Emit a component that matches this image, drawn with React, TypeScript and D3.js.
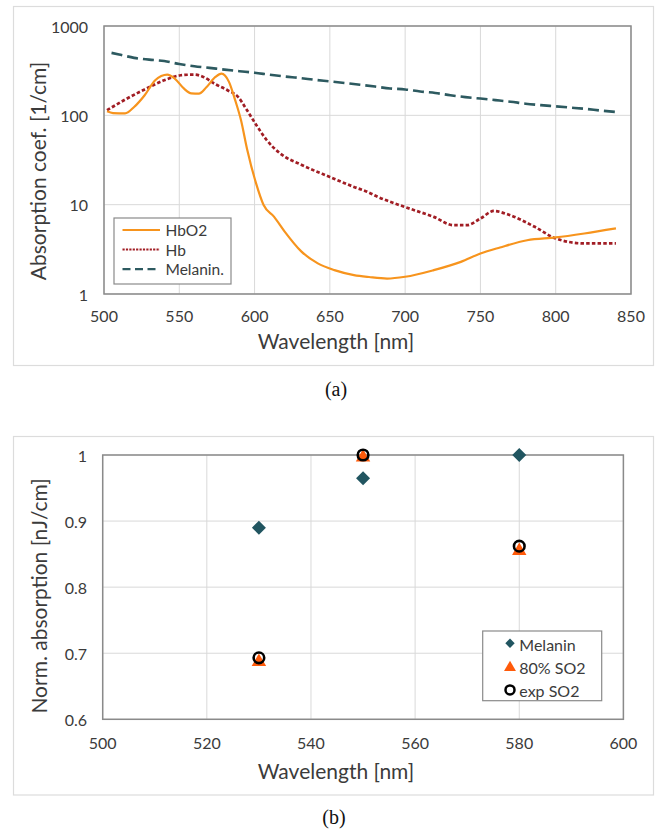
import React from "react";
import * as d3 from "d3";

// ---------- Chart (a) data ----------
const hbo2Wl = [502, 506, 514, 520, 527, 534, 538, 542, 547, 553, 558, 563, 568, 574, 578, 583, 587, 591, 595, 601, 606, 613, 620, 631, 642, 653, 666, 676, 688, 700, 719, 737, 750, 763, 781, 800, 819, 840];
const hbo2Val = [111, 106, 105, 124, 168, 247, 275, 286, 258, 200, 176, 175, 206, 269, 293, 237, 150, 88, 42, 17.3, 9.9, 7.3, 5.0, 3.0, 2.2, 1.85, 1.63, 1.55, 1.49, 1.56, 1.85, 2.29, 2.84, 3.32, 4.0, 4.3, 4.76, 5.42];

const hbWl = [502, 514, 527, 540, 551, 560, 566, 574, 582, 589, 595, 602, 608, 617, 631, 650, 666, 675, 682, 700, 719, 732, 741, 750, 759, 768, 786, 800, 819, 840];
const hbVal = [114, 150, 195, 247, 281, 286, 269, 223, 191, 161, 114, 74, 53, 37.4, 28, 20.4, 15.8, 13.9, 12.2, 9.4, 7.3, 5.9, 5.9, 7.0, 8.5, 7.8, 5.65, 4.19, 3.68, 3.68];

const melWl = [505, 510, 520, 530, 540, 550, 560, 570, 580, 590, 600, 610, 620, 630, 640, 650, 660, 670, 680, 690, 700, 710, 720, 730, 740, 750, 760, 770, 780, 790, 800, 810, 820, 830, 840];
const melVal = [500, 480, 440, 420, 405, 375, 355, 340, 325, 312, 300, 285, 272, 262, 250, 240, 230, 220, 210, 200, 195, 185, 178, 168, 160, 154, 148, 142, 135, 130, 126, 122, 118, 113, 109];

const aXTicks = [500, 550, 600, 650, 700, 750, 800, 850];
const aYTicks = [1, 10, 100, 1000];
const aLegend = ["HbO2", "Hb", "Melanin."];

// ---------- Chart (b) data ----------
const bWl = [530, 550, 580];
const bMelanin = [0.89, 0.965, 1.0];
const bSO2_80 = [0.687, 0.9965, 0.855];
const bSO2_exp = [0.693, 1.0, 0.862];
const bXTicks = [500, 520, 540, 560, 580, 600];
const bYTicks = [0.6, 0.7, 0.8, 0.9, 1];
const bLegend = ["Melanin", "80% SO2", "exp SO2"];

const FONT = "Lato, 'Open Sans', sans-serif";
const TXT = "#3b3b3b";
const GRID = "#d9d9d9";
const BORDER = "#8a8a8a";
const C_HBO2 = "#f7941d";
const C_HB = "#a11d24";
const C_MEL = "#2d5a60";
const C_MELB = "#215560";
const C_TRI = "#ff5a0a";

function toPts(w: number[], v: number[]) {
  return w.map((x, i) => [x, v[i]] as [number, number]);
}

function ChartA() {
  const x = d3.scaleLinear().domain([500, 850]).range([104, 631]);
  const y = d3.scaleLog().domain([1, 1000]).range([294, 26]);
  const line = d3
    .line<[number, number]>()
    .x((d) => x(d[0]))
    .y((d) => y(d[1]))
    .curve(d3.curveMonotoneX);
  const [x0, x1] = x.range();
  const [y0, y1] = y.range();
  return (
    <g>
      <rect x={13.5} y={6.5} width={640} height={359} fill="#fff" stroke="#dcdcdc" strokeWidth={1.2} />
      {aXTicks.map((t) => (
        <line key={"gx" + t} x1={x(t)} x2={x(t)} y1={y1} y2={y0} stroke={GRID} strokeWidth={1} />
      ))}
      {aYTicks.map((t) => (
        <line key={"gy" + t} x1={x0} x2={x1} y1={y(t)} y2={y(t)} stroke={GRID} strokeWidth={1} />
      ))}
      <path d={line(toPts(melWl, melVal)) || ""} fill="none" stroke={C_MEL} strokeWidth={2.6} strokeDasharray="11 5" />
      <path d={line(toPts(hbWl, hbVal)) || ""} fill="none" stroke={C_HB} strokeWidth={2.7} strokeDasharray="3.5 2.2" />
      <path d={line(toPts(hbo2Wl, hbo2Val)) || ""} fill="none" stroke={C_HBO2} strokeWidth={2.2} />
      <rect x={x0} y={y1} width={x1 - x0} height={y0 - y1} fill="none" stroke={BORDER} strokeWidth={1.5} />
      {aXTicks.map((t) => (
        <text key={"tx" + t} x={x(t)} y={315} textAnchor="middle" dominantBaseline="central" fontSize={16} fill={TXT} fontFamily={FONT}>
          {t}
        </text>
      ))}
      {aYTicks.map((t) => (
        <text key={"ty" + t} x={88} y={y(t)} textAnchor="end" dominantBaseline="central" fontSize={16} fill={TXT} fontFamily={FONT}>
          {t}
        </text>
      ))}
      <text x={336} y={340} textAnchor="middle" dominantBaseline="central" fontSize={21} fill={TXT} fontFamily={FONT}>
        Wavelength  [nm]
      </text>
      <text transform="translate(37,171) rotate(-90)" textAnchor="middle" dominantBaseline="central" fontSize={21} fill={TXT} fontFamily={FONT}>
        Absorption coef. [1/cm]
      </text>
      {/* legend */}
      <rect x={114} y={218} width={117} height={66} fill="#fff" stroke="#8a8a8a" strokeWidth={1.2} />
      {aLegend.map((name, i) => {
        const ly = 230 + i * 19.6;
        const style =
          i === 0
            ? { stroke: C_HBO2, dash: undefined as string | undefined, w: 2.2 }
            : i === 1
            ? { stroke: C_HB, dash: "2.2 1.2", w: 2 }
            : { stroke: C_MEL, dash: "8 4.5", w: 2.2 };
        return (
          <g key={name}>
            <line x1={122.5} x2={160} y1={ly} y2={ly} stroke={style.stroke} strokeWidth={style.w} strokeDasharray={style.dash} />
            <text x={165.5} y={ly} dominantBaseline="central" fontSize={15.5} fill={TXT} fontFamily={FONT}>
              {name}
            </text>
          </g>
        );
      })}
      <text x={336} y={389} textAnchor="middle" dominantBaseline="central" fontSize={20} fill="#111" fontFamily="'Liberation Serif', 'Times New Roman', serif">
        (a)
      </text>
    </g>
  );
}

function ChartB() {
  const x = d3.scaleLinear().domain([500, 600]).range([102.7, 623.4]);
  const y = d3.scaleLinear().domain([0.6, 1]).range([719.3, 455]);
  const [x0, x1] = x.range();
  const [y0, y1] = y.range();
  const diamond = d3.symbol().type(d3.symbolSquare).size(98)() || "";
  const tri = d3.symbol().type(d3.symbolTriangle).size(90)() || "";
  return (
    <g>
      <rect x={13.5} y={436.5} width={640} height={358.5} fill="#fff" stroke="#dcdcdc" strokeWidth={1.2} />
      {bXTicks.map((t) => (
        <line key={"gx" + t} x1={x(t)} x2={x(t)} y1={y1} y2={y0} stroke={GRID} strokeWidth={1} />
      ))}
      {bYTicks.map((t) => (
        <line key={"gy" + t} x1={x0} x2={x1} y1={y(t)} y2={y(t)} stroke={GRID} strokeWidth={1} />
      ))}
      <rect x={x0} y={y1} width={x1 - x0} height={y0 - y1} fill="none" stroke={BORDER} strokeWidth={1.5} />
      {bWl.map((w, i) => (
        <path key={"m" + w} d={diamond} transform={`translate(${x(w)},${y(bMelanin[i])}) rotate(45)`} fill={C_MELB} />
      ))}
      {bWl.map((w, i) => (
        <path key={"t" + w} d={tri} transform={`translate(${x(w)},${y(bSO2_80[i])})`} fill={C_TRI} />
      ))}
      {bWl.map((w, i) => (
        <circle key={"c" + w} cx={x(w)} cy={y(bSO2_exp[i])} r={5.3} fill="none" stroke="#000" strokeWidth={2.6} />
      ))}
      {bXTicks.map((t) => (
        <text key={"tx" + t} x={x(t)} y={742.5} textAnchor="middle" dominantBaseline="central" fontSize={16} fill={TXT} fontFamily={FONT}>
          {t}
        </text>
      ))}
      {bYTicks.map((t) => (
        <text key={"ty" + t} x={87} y={y(t)} textAnchor="end" dominantBaseline="central" fontSize={16} fill={TXT} fontFamily={FONT}>
          {t}
        </text>
      ))}
      <text x={336} y={770} textAnchor="middle" dominantBaseline="central" fontSize={21} fill={TXT} fontFamily={FONT}>
        Wavelength [nm]
      </text>
      <text transform="translate(38,596) rotate(-90)" textAnchor="middle" dominantBaseline="central" fontSize={21} fill={TXT} fontFamily={FONT}>
        Norm. absorption [nJ/cm]
      </text>
      {/* legend */}
      <rect x={482.7} y={631} width={119} height={69.7} fill="#fff" stroke="#8a8a8a" strokeWidth={1.2} />
      {bLegend.map((name, i) => {
        const ly = 644.3 + i * 23.3;
        return (
          <g key={name}>
            {i === 0 && <path d={d3.symbol().type(d3.symbolSquare).size(44)() || ""} transform={`translate(510,${ly - 1}) rotate(45)`} fill={C_MELB} />}
            {i === 1 && <path d={d3.symbol().type(d3.symbolTriangle).size(62)() || ""} transform={`translate(510,${ly})`} fill={C_TRI} />}
            {i === 2 && <circle cx={510} cy={ly - 1} r={4.5} fill="none" stroke="#000" strokeWidth={2.5} />}
            <text x={519.3} y={ly} dominantBaseline="central" fontSize={16} fill={TXT} fontFamily={FONT}>
              {name}
            </text>
          </g>
        );
      })}
      <text x={334} y={817} textAnchor="middle" dominantBaseline="central" fontSize={20} fill="#111" fontFamily="'Liberation Serif', 'Times New Roman', serif">
        (b)
      </text>
    </g>
  );
}

export default function App() {
  return (
    <svg width={656} height={830} style={{ position: "absolute", left: 0, top: 0, background: "#fff" }}>
      <rect x={0} y={0} width={656} height={830} fill="#fff" />
      <ChartA />
      <ChartB />
    </svg>
  );
}
